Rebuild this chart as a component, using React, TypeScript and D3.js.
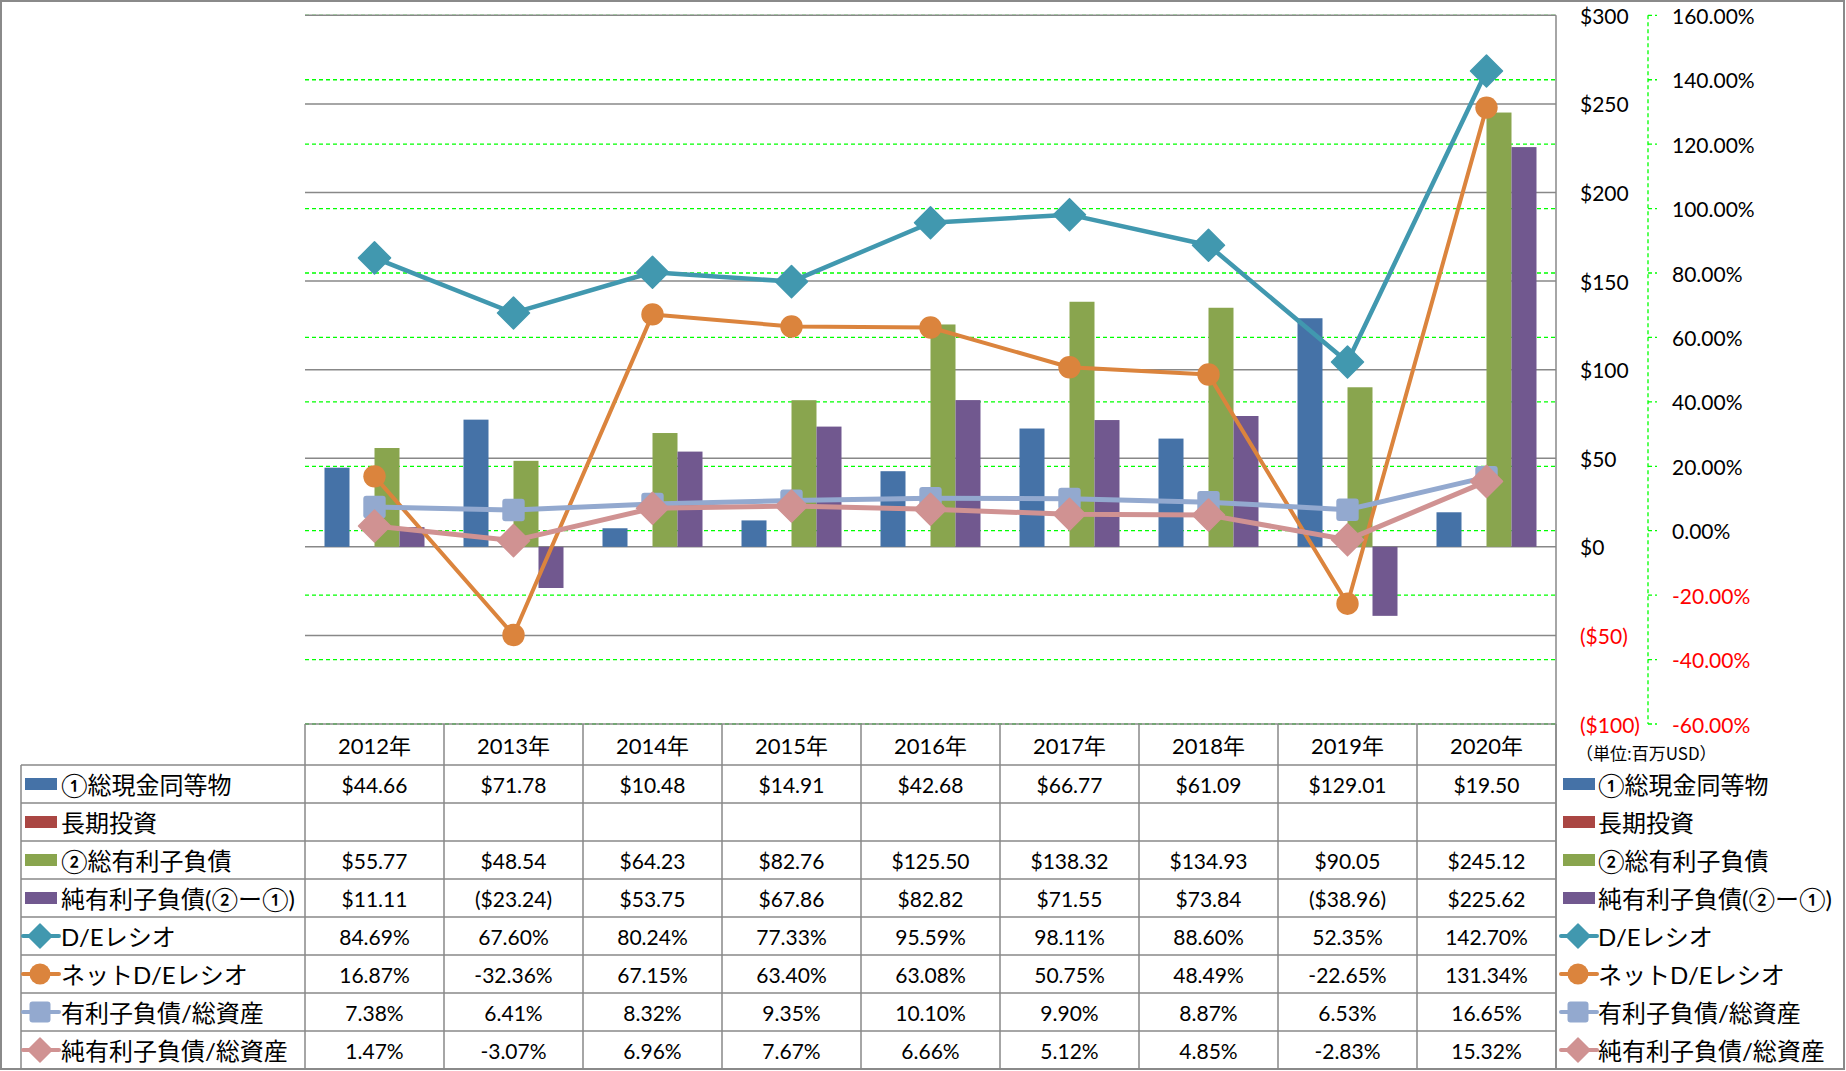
import React from "react";
import * as d3 from "d3";

const years = ["2012年", "2013年", "2014年", "2015年", "2016年", "2017年", "2018年", "2019年", "2020年"];
const cash = [44.66, 71.78, 10.48, 14.91, 42.68, 66.77, 61.09, 129.01, 19.5];
const longInv: (number | null)[] = [null, null, null, null, null, null, null, null, null];
const totalDebt = [55.77, 48.54, 64.23, 82.76, 125.5, 138.32, 134.93, 90.05, 245.12];
const netDebt = [11.11, -23.24, 53.75, 67.86, 82.82, 71.55, 73.84, -38.96, 225.62];
const deRatio = [84.69, 67.6, 80.24, 77.33, 95.59, 98.11, 88.6, 52.35, 142.7];
const netDeRatio = [16.87, -32.36, 67.15, 63.4, 63.08, 50.75, 48.49, -22.65, 131.34];
const debtToAssets = [7.38, 6.41, 8.32, 9.35, 10.1, 9.9, 8.87, 6.53, 16.65];
const netDebtToAssets = [1.47, -3.07, 6.96, 7.67, 6.66, 5.12, 4.85, -2.83, 15.32];
const moneyTicks = [300, 250, 200, 150, 100, 50, 0, -50, -100];
const pctTicks = [160, 140, 120, 100, 80, 60, 40, 20, 0, -20, -40, -60];
const unitLabel = "（単位:百万USD）";

const barSeries = [
  { key: "cash", name: "①総現金同等物", values: cash as (number | null)[], color: "#4572A7" },
  { key: "lti", name: "長期投資", values: longInv, color: "#AA4643" },
  { key: "debt", name: "②総有利子負債", values: totalDebt as (number | null)[], color: "#89A54E" },
  { key: "net", name: "純有利子負債(②ー①)", values: netDebt as (number | null)[], color: "#71588F" },
];
const lineSeries = [
  { key: "de", name: "D/Eレシオ", values: deRatio, color: "#4198AF", marker: "diamond", width: 4.5 },
  { key: "nde", name: "ネットD/Eレシオ", values: netDeRatio, color: "#DB843D", marker: "circle", width: 4 },
  { key: "dta", name: "有利子負債/総資産", values: debtToAssets, color: "#93A9CF", marker: "square", width: 5 },
  { key: "ndta", name: "純有利子負債/総資産", values: netDebtToAssets, color: "#D09292", marker: "diamond", width: 5 },
];

const W = 1846;
const H = 1071;
const plotL = 305;
const plotR = 1556;
const plotT = 15.3;
const plotB = 724;
const headerB = 765;
const rowH = 38;
const tableL = 21;
const latin = "Lato, 'Noto Sans CJK JP', sans-serif";
const grid = "#888888";
const green = "#00FF00";

function Marker({ type, x, y, s, color }: { type: string; x: number; y: number; s: number; color: string }) {
  if (type === "diamond") {
    return <path d={`M${x},${y - s}L${x + s},${y}L${x},${y + s}L${x - s},${y}Z`} fill={color} stroke={color} strokeWidth={1.5} strokeLinejoin="round" />;
  }
  if (type === "circle") {
    return <circle cx={x} cy={y} r={s * 0.7} fill={color} />;
  }
  const h = s * 0.7;
  return <rect x={x - h} y={y - h} width={2 * h} height={2 * h} rx={3} fill={color} />;
}

export default function App() {
  const x = d3.scaleBand<string>().domain(years).range([plotL, plotR]).paddingInner(0).paddingOuter(0);
  const bw = x.bandwidth();
  const groupW = 100;
  const inner = d3.scaleBand<string>().domain(barSeries.map((s) => s.key)).range([0, groupW]);
  const y = d3.scaleLinear().domain([-100, 300]).range([plotB, plotT]);
  const y2 = d3.scaleLinear().domain([-60, 160]).range([plotB, plotT]);
  const cx = (i: number) => (x(years[i]) as number) + bw / 2;

  const fmtMoney = (v: number) => (v < 0 ? `($${(-v).toFixed(2)})` : `$${v.toFixed(2)}`);
  const fmtPct = (v: number) => `${v.toFixed(2)}%`;
  const fmtTickMoney = (v: number) => (v < 0 ? `($${-v})` : `$${v}`);

  const rows = [
    ...barSeries.map((s) => ({ kind: "bar", s, texts: s.values.map((v) => (v == null ? "" : fmtMoney(v))) })),
    ...lineSeries.map((s) => ({ kind: "line", s, texts: s.values.map((v) => fmtPct(v)) })),
  ];

  const lineGen = d3
    .line<number>()
    .x((_, i) => cx(i))
    .y((v) => y2(v));

  const keyFor = (r: any, x0: number, yc: number) => {
    if (r.kind === "bar") {
      return <rect x={x0} y={yc - 6} width={32} height={12} fill={r.s.color} />;
    }
    return (
      <g>
        <line x1={x0 - 2} x2={x0 + 34} y1={yc} y2={yc} stroke={r.s.color} strokeWidth={4} strokeLinecap="round" />
        <Marker type={r.s.marker} x={x0 + 15} y={yc} s={r.s.marker === "diamond" ? 12 : 15} color={r.s.color} />
      </g>
    );
  };

  return (
    <svg width={W} height={H} style={{ position: "absolute", left: 0, top: 0, background: "#fff" }}>
      <rect x={1} y={1} width={W - 3} height={H - 3} fill="#fff" stroke="#8a8a8a" strokeWidth={2} />

      {/* percent gridlines (green dashed) */}
      {pctTicks.map((t) => (
        <line key={"pg" + t} x1={plotL} x2={plotR} y1={y2(t)} y2={y2(t)} stroke={green} strokeWidth={1.3} strokeDasharray="4,3" />
      ))}
      {/* money gridlines */}
      {moneyTicks.map((t) => (
        <line key={"mg" + t} x1={plotL} x2={plotR} y1={y(t)} y2={y(t)} stroke={grid} strokeWidth={1.5} />
      ))}

      {/* bars */}
      {barSeries.map((s) =>
        s.values.map((v, i) =>
          v == null ? null : (
            <rect
              key={s.key + i}
              x={(x(years[i]) as number) + (bw - groupW) / 2 + (inner(s.key) as number)}
              y={y(Math.max(0, v))}
              width={inner.bandwidth()}
              height={Math.abs(y(v) - y(0))}
              fill={s.color}
            />
          )
        )
      )}

      {/* lines */}
      {lineSeries.map((s) => (
        <g key={s.key}>
          <path d={lineGen(s.values) as string} fill="none" stroke={s.color} strokeWidth={s.width} strokeLinejoin="round" />
          {s.values.map((v, i) => (
            <Marker key={i} type={s.marker} x={cx(i)} y={y2(v)} s={16} color={s.color} />
          ))}
        </g>
      ))}

      {/* right border of plot / table */}
      <line x1={plotR} x2={plotR} y1={plotT} y2={H - 2} stroke={grid} strokeWidth={1.5} />

      {/* money axis labels */}
      {moneyTicks.map((t) => (
        <text key={"ml" + t} x={1580} y={y(t)} dominantBaseline="central" fontFamily={latin} fontSize={21} fill={t < 0 ? "#FF0000" : "#000"}>
          {fmtTickMoney(t)}
        </text>
      ))}

      {/* percent axis */}
      <line x1={1648} x2={1648} y1={plotT} y2={plotB} stroke={green} strokeWidth={1.3} strokeDasharray="4,3" />
      {pctTicks.map((t) => (
        <g key={"pl" + t}>
          <line x1={1648} x2={1657} y1={y2(t)} y2={y2(t)} stroke={green} strokeWidth={1.3} strokeDasharray="4,3" />
          <text x={1672} y={y2(t)} dominantBaseline="central" fontFamily={latin} fontSize={21} fill={t < 0 ? "#FF0000" : "#000"}>
            {fmtPct(t)}
          </text>
        </g>
      ))}

      <text x={1576} y={752} dominantBaseline="central" fontFamily="'Noto Sans CJK JP', sans-serif" fontSize={17} fill="#000">
        {unitLabel}
      </text>

      {/* data table */}
      <g stroke={grid} strokeWidth={1.5}>
        <line x1={plotL} x2={plotL} y1={plotB} y2={H - 2} />
        {years.map((yr, i) => (
          <line key={"tv" + i} x1={(x(yr) as number) + bw} x2={(x(yr) as number) + bw} y1={plotB} y2={H - 2} />
        ))}
        <line x1={tableL} x2={tableL} y1={headerB} y2={H - 2} />
        {rows.map((_, r) => (
          <line key={"th" + r} x1={tableL} x2={plotR} y1={headerB + r * rowH} y2={headerB + r * rowH} />
        ))}
      </g>
      {years.map((yr, i) => (
        <text key={"yh" + i} x={cx(i)} y={(plotB + headerB) / 2 + 1} textAnchor="middle" dominantBaseline="central" fontFamily={latin} fontSize={22} fill="#000">
          {yr}
        </text>
      ))}
      {rows.map((r, ri) => {
        const yc = headerB + ri * rowH + rowH / 2;
        return (
          <g key={"row" + ri}>
            {keyFor(r, 25, yc)}
            <text x={61} y={yc} dominantBaseline="central" fontFamily={latin} fontSize={24} fill="#000">
              {r.s.name}
            </text>
            {r.texts.map((t, i) => (
              <text key={i} x={cx(i)} y={yc} textAnchor="middle" dominantBaseline="central" fontFamily={latin} fontSize={21} fill="#000">
                {t}
              </text>
            ))}
            {keyFor(r, 1563, yc)}
            <text x={1598} y={yc} dominantBaseline="central" fontFamily={latin} fontSize={24} fill="#000">
              {r.s.name}
            </text>
          </g>
        );
      })}
    </svg>
  );
}
